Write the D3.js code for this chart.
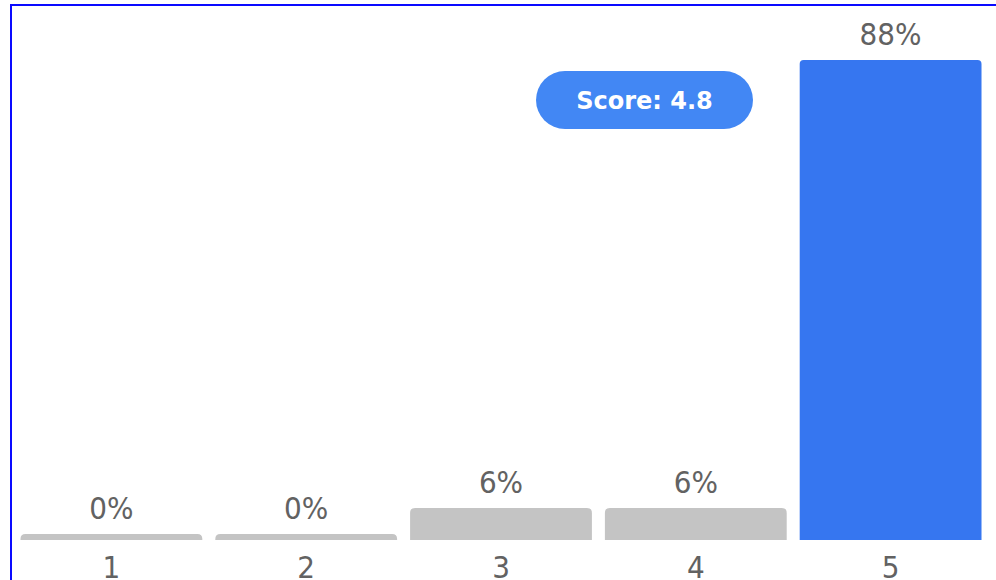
<!DOCTYPE html>
<html>
<head>
<meta charset="utf-8">
<script src="https://cdn.jsdelivr.net/npm/d3@7"></script>
<style>
  html, body { margin: 0; padding: 0; background: #fff; overflow: hidden; }
  body { width: 996px; height: 580px; position: relative; }
  .frame { position: absolute; left: 10px; top: 4px; width: 1200px; height: 800px; border: 2px solid #0a0aff; box-sizing: border-box; }
  svg { position: absolute; left: 0; top: 0; }
  text { font-family: "DejaVu Sans", sans-serif; }
  .lbl { font-family: "DejaVu Sans Condensed", "DejaVu Sans", sans-serif; font-size: 31px; }
</style>
</head>
<body>
<div class="frame"></div>
<div id="chart"></div>
<script>
// rating distribution
const ratings = ['1', '2', '3', '4', '5'];
const percents = [0, 0, 5.9, 5.9, 88.2];
const highlight = '5';
const scoreText = 'Score: 4.8';

const width = 996, height = 580;
const baseline = 540, topY = 60;

const svg = d3.select('#chart').append('svg')
  .attr('width', width)
  .attr('height', height);

const x = d3.scaleBand()
  .domain(ratings)
  .range([14, 988])
  .paddingInner(0.0667)
  .paddingOuter(0.0333);

const y = d3.scaleLinear()
  .domain([0, d3.max(percents)])
  .range([baseline, topY]);

const data = ratings.map((r, i) => ({ rating: r, value: percents[i] }));

// bar with rounded top corners, small min height so 0% still shows
function barPath(d) {
  const x0 = x(d.rating), w = x.bandwidth();
  const h = Math.max(baseline - y(d.value), 6);
  const r = d.rating === highlight ? 4 : 5;
  const t = baseline - h;
  return `M${x0},${baseline} L${x0},${t + r} Q${x0},${t} ${x0 + r},${t}` +
    ` L${x0 + w - r},${t} Q${x0 + w},${t} ${x0 + w},${t + r} L${x0 + w},${baseline} Z`;
}

svg.selectAll('.bar')
  .data(data)
  .enter()
  .append('path')
  .attr('class', 'bar')
  .attr('d', barPath)
  .attr('fill', d => d.rating === highlight ? '#3676f0' : '#c4c4c4');

svg.selectAll('.pct')
  .data(data)
  .enter()
  .append('text')
  .attr('class', 'pct lbl')
  .attr('x', d => x(d.rating) + x.bandwidth() / 2)
  .attr('y', d => baseline - Math.max(baseline - y(d.value), 6) - 15)
  .attr('text-anchor', 'middle')
  .attr('fill', '#626262')
  .text(d => d3.format('.0f')(d.value) + '%');

// category axis, no line or ticks
const axis = svg.append('g')
  .attr('transform', `translate(0,${baseline})`)
  .call(d3.axisBottom(x).tickSize(0).tickPadding(0));
axis.select('.domain').remove();
axis.attr('font-family', null).attr('font-size', null);
axis.selectAll('text')
  .attr('class', 'lbl')
  .attr('dy', null)
  .attr('y', 38)
  .attr('fill', '#626262');

// score badge
const badge = svg.append('g').attr('transform', 'translate(644.5,100)');
badge.append('rect')
  .attr('x', -108.5).attr('y', -29)
  .attr('width', 217).attr('height', 58)
  .attr('rx', 29)
  .attr('fill', '#4287f4');
badge.append('text')
  .attr('text-anchor', 'middle')
  .attr('dy', '0.36em')
  .attr('fill', '#fff')
  .style('font-weight', 'bold')
  .style('font-size', '24px')
  .text(scoreText);
</script>
</body>
</html>
